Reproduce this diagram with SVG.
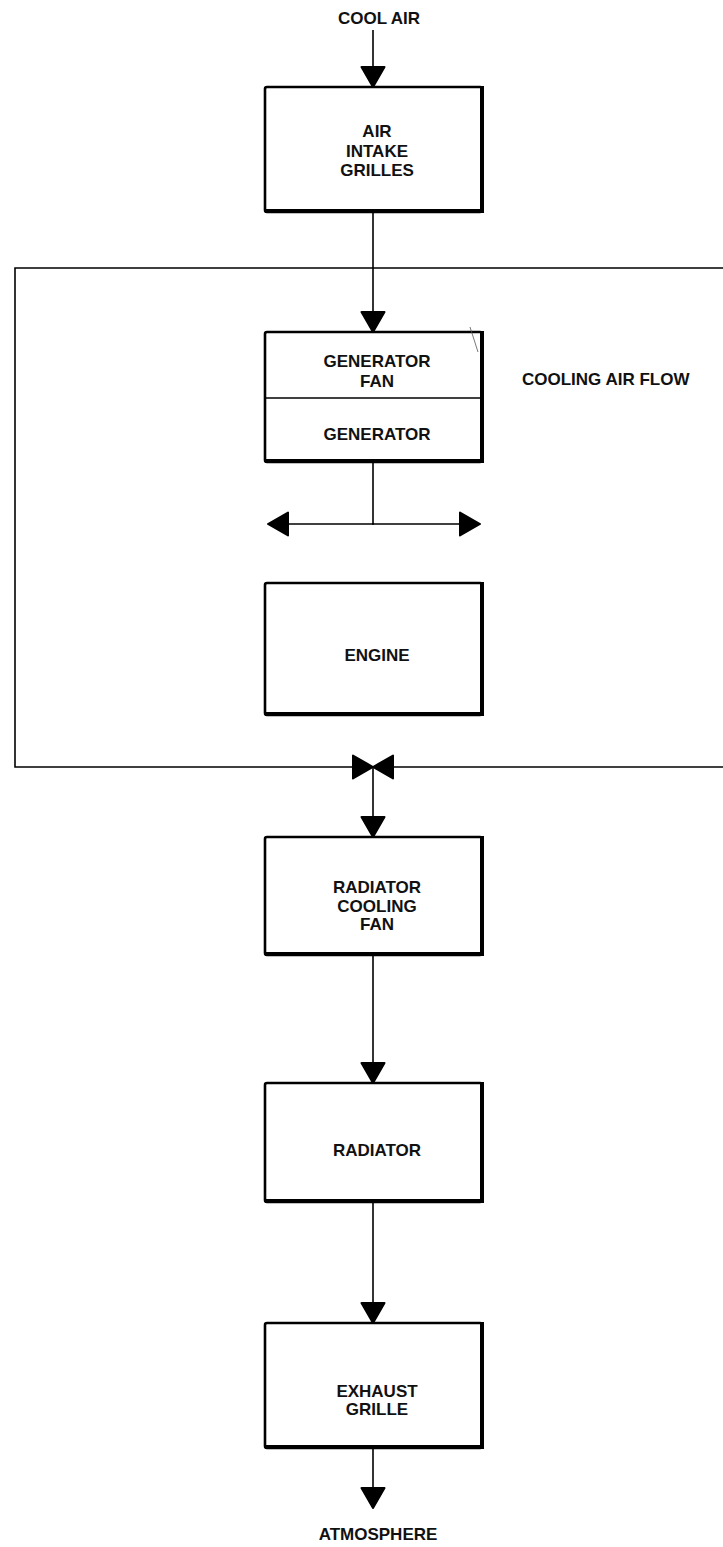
<svg xmlns="http://www.w3.org/2000/svg" width="723" height="1547" viewBox="0 0 723 1547">
<style>
  .box { fill: #fff; stroke: #000; stroke-width: 2.6; }
  .edge { fill: none; stroke: #000; stroke-width: 4; stroke-linecap: square; }
  .div { stroke: #000; stroke-width: 1.6; }
  .conn { fill: none; stroke: #000; stroke-width: 1.6; }
  .lbl { font-family: "Liberation Sans", Arial, sans-serif; font-weight: bold; font-size: 17px; fill: #111; text-anchor: middle; }
  .lbl-l { font-family: "Liberation Sans", Arial, sans-serif; font-weight: bold; font-size: 17px; fill: #111; text-anchor: start; }
</style>
<defs>
  <marker id="ah" markerUnits="userSpaceOnUse" viewBox="0 0 22 26" refX="21" refY="13" markerWidth="22" markerHeight="26" orient="auto">
    <path d="M1,1.5 L21,13 L1,24.5 Z" fill="#000" stroke="#000" stroke-width="2" stroke-linejoin="round"/>
  </marker>
</defs>
<rect width="723" height="1547" fill="#fff"/>

<g id="connectors">
  <line class="conn" x1="373" y1="30" x2="373" y2="87" marker-end="url(#ah)"/>
  <line class="conn" x1="373" y1="212" x2="373" y2="332" marker-end="url(#ah)"/>
  <path class="conn" d="M723,268 L15,268 L15,767 L373,767" marker-end="url(#ah)"/>
  <line class="conn" x1="723" y1="767" x2="373" y2="767" marker-end="url(#ah)"/>
  <line class="conn" x1="373" y1="462" x2="373" y2="524"/>
  <line class="conn" x1="374" y1="524" x2="268" y2="524" marker-end="url(#ah)"/>
  <line class="conn" x1="372" y1="524" x2="480" y2="524" marker-end="url(#ah)"/>
  <line class="conn" x1="373" y1="767" x2="373" y2="837" marker-end="url(#ah)"/>
  <line class="conn" x1="373" y1="955" x2="373" y2="1083" marker-end="url(#ah)"/>
  <line class="conn" x1="373" y1="1202" x2="373" y2="1323" marker-end="url(#ah)"/>
  <line class="conn" x1="373" y1="1448" x2="373" y2="1508" marker-end="url(#ah)"/>
</g>

<g id="cool-air">
  <text class="lbl" x="379" y="24">COOL AIR</text>
</g>

<g id="air-intake-grilles">
  <rect class="box" x="265" y="87" width="217" height="125" rx="2"/>
  <path class="edge" d="M482,88 L482,211 L267,211"/>
  <text class="lbl" x="377" y="137">AIR</text>
  <text class="lbl" x="377" y="157">INTAKE</text>
  <text class="lbl" x="377" y="176">GRILLES</text>
</g>

<g id="cooling-air-flow">
  <text class="lbl-l" x="522" y="385">COOLING AIR FLOW</text>
</g>

<g id="generator">
  <rect class="box" x="265" y="332" width="217" height="130" rx="2"/>
  <path class="edge" d="M482,333 L482,461 L267,461"/>
  <line class="div" x1="265" y1="398" x2="482" y2="398"/>
  <line x1="470" y1="327" x2="478" y2="352" stroke="#555" stroke-width="0.8"/>
  <text class="lbl" x="377" y="367">GENERATOR</text>
  <text class="lbl" x="377" y="387">FAN</text>
  <text class="lbl" x="377" y="440">GENERATOR</text>
</g>

<g id="engine">
  <rect class="box" x="265" y="583" width="217" height="132" rx="2"/>
  <path class="edge" d="M482,584 L482,714 L267,714"/>
  <text class="lbl" x="377" y="661">ENGINE</text>
</g>

<g id="radiator-cooling-fan">
  <rect class="box" x="265" y="837" width="217" height="118" rx="2"/>
  <path class="edge" d="M482,838 L482,954 L267,954"/>
  <text class="lbl" x="377" y="893">RADIATOR</text>
  <text class="lbl" x="377" y="912">COOLING</text>
  <text class="lbl" x="377" y="930">FAN</text>
</g>

<g id="radiator">
  <rect class="box" x="265" y="1083" width="217" height="119" rx="2"/>
  <path class="edge" d="M482,1084 L482,1201 L267,1201"/>
  <text class="lbl" x="377" y="1156">RADIATOR</text>
</g>

<g id="exhaust-grille">
  <rect class="box" x="265" y="1323" width="217" height="125" rx="2"/>
  <path class="edge" d="M482,1324 L482,1447 L267,1447"/>
  <text class="lbl" x="377" y="1397">EXHAUST</text>
  <text class="lbl" x="377" y="1415">GRILLE</text>
</g>

<g id="atmosphere">
  <text class="lbl" x="378" y="1540">ATMOSPHERE</text>
</g>
</svg>
